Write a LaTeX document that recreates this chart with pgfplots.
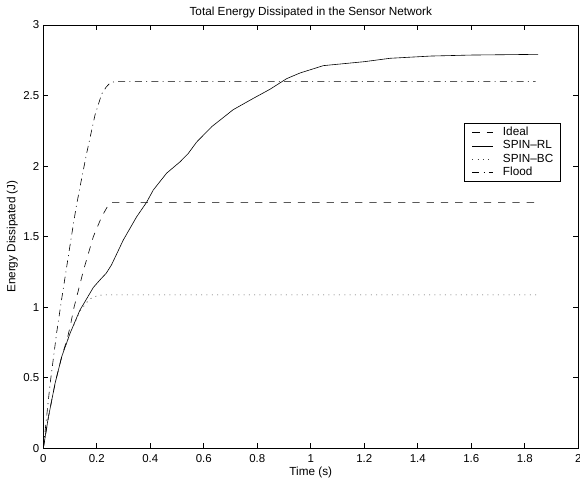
\documentclass[border=0pt]{standalone}
\usepackage{fontspec}
\setmainfont{Liberation Sans}
\usepackage{pgfplots}
\pgfplotsset{compat=1.18}
\begin{document}
\fontsize{11.8}{13}\selectfont
\begin{tikzpicture}
\begin{axis}[
  at={(0,0)}, anchor=south west,
  scale only axis, width=535bp, height=423.3bp,
  xmin=0, xmax=2, ymin=0, ymax=3,
  xtick={0,0.2,0.4,0.6,0.8,1,1.2,1.4,1.6,1.8,2},
  ytick={0,0.5,1,1.5,2,2.5,3},
  tick align=inside, tick pos=both, major tick length=5bp,
  /pgf/number format/assume math mode=true,
  tick label style={font=\fontsize{11.5}{13}\selectfont},
  xticklabel style={anchor=base, yshift=-14.4bp},
  axis line style={line width=0.7bp},
  every tick/.style={black, line width=0.7bp},
  title={Total Energy Dissipated in the Sensor Network},
  every axis title/.style={at={(axis description cs:0.5,1.022)}, anchor=base, font=\fontsize{11.8}{13}\selectfont},
  xlabel={Time (s)}, ylabel={Energy Dissipated (J)},
  xlabel style={at={(axis description cs:0.5,-0.0647)}, anchor=base, font=\fontsize{11.8}{13}\selectfont},
  ylabel style={at={(axis description cs:-0.052,0.5)}, anchor=base, font=\fontsize{11.8}{13}\selectfont},
  legend cell align=left,
  legend image code/.code={\draw[#1] (0bp,0bp) -- (21bp,0bp);},
  legend style={at={(0.9677,0.7678)}, anchor=north east, draw=black, line width=0.7bp,
    font=\fontsize{11.8}{13}\selectfont, inner xsep=7.4bp, inner ysep=3.6bp,
    column sep=9.3bp, row sep=2.2bp,
    nodes={inner sep=0bp, text height=8.5bp, text depth=2.5bp}},
]
\addplot[black, line width=0.6bp, dash pattern=on 7.3bp off 7bp] coordinates {
(0,0) (0.019,0.22) (0.044,0.46) (0.069,0.65) (0.09,0.78) (0.1,0.86) (0.115,1.0)
(0.15,1.26) (0.187,1.5) (0.218,1.64) (0.243,1.724) (0.255,1.743) (1.85,1.743)};
\addlegendentry{Ideal}
\addplot[black, line width=0.6bp] coordinates {
(0,0) (0.019,0.22) (0.044,0.46) (0.069,0.65) (0.1,0.815) (0.137,0.98) (0.156,1.04)
(0.187,1.14) (0.215,1.2) (0.235,1.24) (0.255,1.30) (0.299,1.476) (0.349,1.641) (0.386,1.743)
(0.411,1.83) (0.461,1.95) (0.511,2.03) (0.542,2.09) (0.573,2.17) (0.63,2.28)
(0.71,2.40) (0.785,2.48) (0.847,2.544) (0.885,2.59) (0.91,2.62) (0.96,2.66)
(1.047,2.712) (1.2,2.74) (1.296,2.764) (1.45,2.78) (1.6,2.787) (1.85,2.792)};
\addlegendentry{SPIN--RL}
\addplot[black!75, line width=0.6bp, dash pattern=on 1bp off 4.3bp] coordinates {
(0,0) (0.019,0.22) (0.044,0.46) (0.069,0.65) (0.1,0.815) (0.137,0.97) (0.16,1.03)
(0.18,1.065) (0.2,1.08) (0.22,1.087) (1.85,1.087)};
\addlegendentry{SPIN--BC}
\addplot[black, line width=0.6bp, dash pattern=on 7bp off 4.3bp on 1bp off 4.3bp] coordinates {
(0,0) (0.025,0.45) (0.05,0.82) (0.068,1.05) (0.105,1.5) (0.122,1.7) (0.137,1.85) (0.162,2.09)
(0.193,2.36) (0.218,2.51) (0.235,2.56) (0.25,2.59) (0.27,2.6) (1.84,2.6)};
\addlegendentry{Flood}
\end{axis}
\pgfresetboundingbox
\useasboundingbox (-43.3bp,-36.7bp) rectangle (536.7bp,448.3bp);
\end{tikzpicture}
\end{document}
